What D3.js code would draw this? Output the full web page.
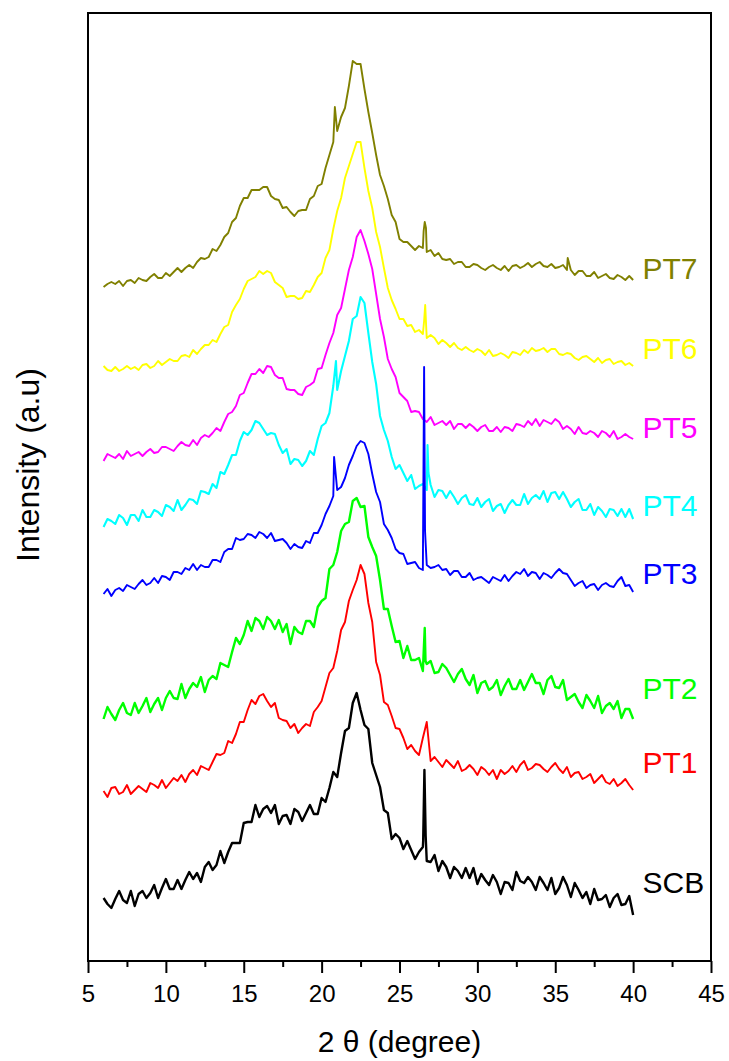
<!DOCTYPE html>
<html>
<head>
<meta charset="utf-8">
<script src="https://cdn.jsdelivr.net/npm/d3@7"></script>
<style>
  body { margin: 0; background: #fff; }
  text { font-family: "Liberation Sans", Arial, sans-serif; }
</style>
</head>
<body>
<svg id="chart" width="729" height="1061"></svg>
<script>
// XRD scans, 2θ from 6° to 40° in 0.25° steps; intensities are stacked (offset) counts in a.u.
const scanStart = 6;
const scanStep = 0.25;

const sampleNames = ["SCB", "PT1", "PT2", "PT3", "PT4", "PT5", "PT6", "PT7"];
const sampleColors = ["#000000", "#ff0000", "#00ff00", "#0000ff", "#00ffff", "#ff00ff", "#ffff00", "#808000"];
// noisier scans read as a heavier trace
const traceWidths = [2.4, 1.9, 2.4, 1.9, 2.1, 1.9, 1.9, 1.9];

const SCB = [
  63, 57, 53, 62, 70, 61, 58, 70,
  55, 67, 70, 63, 68, 76, 63, 73,
  82, 72, 72, 81, 72, 81, 89, 82,
  88, 79, 94, 99, 91, 96, 110, 98,
  109, 118, 118, 118, 138, 139, 139, 156,
  144, 152, 155, 148, 156, 137, 145, 146,
  137, 152, 149, 140, 148, 156, 147, 147,
  163, 159, 173, 189, 184, 208, 230, 233,
  258, 268, 251, 236, 232, 198, 186, 174,
  151, 148, 122, 127, 123, 112, 120, 111,
  102, 109, 114, 100, 99, 106, 90, 100,
  94, 83, 94, 90, 83, 93, 83, 93,
  77, 87, 81, 76, 86, 79, 67, 79,
  78, 71, 89, 80, 78, 84, 79, 71,
  84, 78, 71, 83, 67, 73, 84, 76,
  64, 78, 71, 63, 69, 57, 72, 61,
  62, 66, 54, 63, 67, 56, 57, 65,
  46
];
const PT1 = [
  170, 164, 173, 174, 167, 169, 176, 167,
  171, 175, 172, 169, 178, 176, 173, 181,
  173, 178, 183, 180, 186, 179, 187, 191,
  186, 195, 193, 191, 199, 207, 206, 208,
  220, 218, 227, 239, 239, 251, 261, 257,
  265, 267, 260, 254, 258, 243, 241, 240,
  233, 237, 228, 233, 237, 235, 249, 254,
  260, 274, 288, 293, 310, 331, 339, 360,
  371, 381, 396, 387, 358, 339, 299, 286,
  259, 256, 245, 233, 232, 223, 212, 216,
  210, 206, 223, 239, 200, 204, 199, 194,
  201, 197, 193, 200, 190, 192, 196, 192,
  186, 194, 191, 186, 191, 182, 191, 187,
  190, 195, 189, 196, 200, 191, 193, 197,
  196, 192, 189, 194, 198, 192, 188, 194,
  184, 188, 189, 182, 184, 187, 178, 182,
  186, 179, 177, 182, 175, 178, 182, 176,
  171
];
const PT2 = [
  242, 254, 247, 241, 251, 258, 248, 246,
  258, 248, 255, 263, 249, 257, 263, 251,
  263, 270, 263, 262, 277, 263, 272, 278,
  274, 284, 269, 281, 285, 282, 298, 296,
  294, 309, 323, 317, 326, 340, 330, 343,
  340, 332, 344, 340, 332, 341, 329, 337,
  317, 334, 329, 327, 340, 340, 334, 354,
  360, 363, 392, 396, 409, 430, 437, 439,
  460, 463, 454, 455, 424, 414, 405, 381,
  352, 352, 335, 319, 320, 303, 315, 301,
  301, 303, 290, 297, 300, 288, 289, 297,
  293, 286, 279, 287, 292, 282, 276, 286,
  268, 278, 280, 271, 274, 281, 266, 275,
  282, 272, 272, 281, 271, 279, 287, 278,
  278, 267, 281, 285, 274, 273, 281, 261,
  264, 267, 259, 253, 266, 260, 253, 265,
  248, 255, 258, 252, 260, 243, 252, 252,
  242
];
const PT3 = [
  367, 372, 365, 371, 373, 370, 376, 374,
  372, 377, 381, 376, 378, 383, 378, 385,
  384, 381, 389, 389, 387, 393, 391, 397,
  391, 396, 394, 394, 401, 401, 399, 409,
  412, 412, 423, 421, 422, 427, 426, 423,
  429, 427, 423, 428, 420, 421, 422, 418,
  412, 417, 414, 413, 420, 418, 428, 428,
  436, 447, 455, 465, 471, 474, 483, 496,
  505, 515, 520, 518, 507, 487, 469, 459,
  437, 431, 423, 412, 408, 407, 397, 398,
  399, 393, 391, 396, 393, 394, 396, 391,
  392, 386, 390, 390, 384, 384, 388, 381,
  383, 384, 381, 378, 384, 382, 380, 386,
  380, 385, 389, 387, 392, 385, 389, 388,
  382, 388, 386, 383, 388, 392, 388, 387,
  381, 375, 378, 380, 373, 376, 377, 371,
  376, 378, 375, 374, 380, 384, 375, 376,
  369
];
const PT4 = [
  434, 442, 440, 437, 446, 443, 436, 446,
  446, 440, 451, 444, 444, 451, 449, 445,
  456, 454, 450, 461, 451, 456, 462, 461,
  457, 470, 469, 467, 477, 473, 489, 487,
  496, 506, 506, 520, 529, 526, 531, 540,
  538, 532, 526, 528, 527, 516, 508, 512,
  497, 502, 501, 495, 500, 510, 506, 522,
  535, 538, 548, 575, 571, 590, 605, 620,
  642, 645, 664, 658, 628, 599, 577, 545,
  531, 520, 504, 492, 496, 488, 480, 486,
  472, 475, 477, 471, 476, 464, 471, 470,
  463, 470, 464, 457, 463, 466, 457, 456,
  463, 454, 459, 462, 450, 455, 457, 448,
  456, 461, 456, 456, 467, 457, 463, 466,
  462, 470, 459, 468, 469, 462, 469, 462,
  454, 459, 462, 451, 451, 457, 446, 454,
  450, 444, 452, 451, 445, 452, 444, 452,
  442
];
const PT5 = [
  500, 507, 505, 503, 507, 502, 510, 505,
  507, 509, 505, 509, 512, 508, 509, 514,
  514, 512, 510, 515, 519, 516, 515, 521,
  516, 523, 526, 524, 528, 533, 530, 539,
  547, 549, 555, 566, 568, 578, 587, 587,
  592, 588, 595, 594, 586, 583, 583, 572,
  571, 571, 567, 566, 574, 576, 579, 592,
  593, 606, 618, 628, 646, 653, 672, 691,
  704, 724, 731, 720, 707, 692, 667, 642,
  624, 602, 592, 584, 568, 564, 560, 549,
  550, 549, 542, 539, 544, 536, 538, 540,
  536, 540, 532, 537, 537, 533, 537, 534,
  530, 534, 536, 530, 530, 534, 529, 534,
  533, 530, 537, 536, 534, 540, 536, 542,
  535, 541, 539, 537, 542, 539, 532, 535,
  532, 527, 534, 528, 527, 530, 528, 524,
  530, 528, 524, 530, 522, 524, 527, 524,
  522
];
const PT6 = [
  595, 591, 590, 594, 590, 592, 595, 592,
  594, 591, 596, 597, 593, 595, 600, 596,
  599, 602, 600, 600, 605, 606, 604, 611,
  607, 612, 616, 616, 621, 619, 627, 634,
  636, 649, 656, 662, 672, 680, 682, 684,
  690, 687, 690, 688, 679, 676, 673, 664,
  665, 665, 662, 663, 670, 669, 676, 684,
  688, 703, 711, 732, 750, 763, 783, 795,
  807, 819, 819, 793, 770, 753, 729, 714,
  693, 673, 661, 652, 642, 642, 635, 636,
  629, 631, 627, 623, 626, 623, 617, 621,
  618, 614, 618, 613, 611, 614, 611, 609,
  612, 610, 606, 611, 605, 606, 608, 606,
  603, 609, 608, 606, 611, 608, 613, 610,
  611, 613, 609, 612, 612, 607, 606, 608,
  607, 603, 601, 604, 605, 602, 599, 603,
  598, 601, 602, 597, 599, 600, 596, 598,
  595
];
const PT7 = [
  674, 677, 679, 677, 680, 675, 680, 681,
  678, 683, 681, 680, 684, 687, 683, 683,
  688, 685, 689, 693, 689, 693, 696, 693,
  699, 703, 702, 704, 712, 710, 716, 724,
  728, 739, 743, 755, 763, 763, 771, 771,
  771, 774, 774, 765, 762, 761, 753, 754,
  749, 745, 750, 751, 751, 762, 765, 775,
  777, 793, 806, 819, 830, 844, 853, 875,
  900, 897, 897, 872, 849, 828, 806, 786,
  775, 762, 746, 739, 722, 719, 719, 715,
  711, 715, 713, 709, 711, 705, 708, 702,
  701, 702, 697, 699, 699, 694, 694, 697,
  696, 693, 691, 694, 696, 693, 691, 695,
  690, 695, 696, 693, 695, 698, 694, 697,
  699, 695, 694, 697, 693, 694, 696, 691,
  691, 686, 690, 690, 685, 685, 689, 683,
  685, 687, 683, 682, 686, 684, 681, 685,
  681
];

// Narrow crystalline reflections recorded between grid steps: [2θ, intensity]
const SCB_sharp = [[26.52, 120], [26.6, 191], [26.68, 125]];
const PT1_sharp = [];
const PT2_sharp = [[26.62, 333], [26.67, 300]];
const PT3_sharp = [[20.8, 504], [26.58, 594], [26.64, 430]];
const PT4_sharp = [[20.92, 600], [26.8, 516], [26.86, 488]];
const PT5_sharp = [];
const PT6_sharp = [[26.58, 640], [26.65, 656], [26.72, 632]];
const PT7_sharp = [[20.85, 854], [26.55, 730], [26.62, 739], [26.7, 733], [35.8, 703]];

const xTickValues = [5, 10, 15, 20, 25, 30, 35, 40, 45];
const xMinorTickValues = [7.5, 12.5, 17.5, 22.5, 27.5, 32.5, 37.5, 42.5];

// Where each sample name sits (intensity level next to the end of its trace)
const labelLevels = [79, 199, 273, 388, 456, 534, 613, 693];

const seriesValues = [SCB, PT1, PT2, PT3, PT4, PT5, PT6, PT7];
const seriesSharp = [SCB_sharp, PT1_sharp, PT2_sharp, PT3_sharp, PT4_sharp, PT5_sharp, PT6_sharp, PT7_sharp];

const svg = d3.select("#chart");
const plot = { left: 88, right: 711, top: 13, bottom: 961 };

const x = d3.scaleLinear().domain([5, 45]).range([plot.left, plot.right]);
const y = d3.scaleLinear().domain([0, 948]).range([plot.bottom, plot.top]);

const series = sampleNames.map((name, k) => {
  const pts = seriesValues[k].map((v, i) => [scanStart + i * scanStep, v]);
  const all = pts.concat(seriesSharp[k]).sort((a, b) => a[0] - b[0]);
  return { name, color: sampleColors[k], width: traceWidths[k], points: all, label: labelLevels[k] };
});

const line = d3.line().x(d => x(d[0])).y(d => y(d[1]));

// traces, top sample first so lower traces lie over them
svg.append("g")
  .selectAll("path")
  .data(series.slice().reverse())
  .join("path")
  .attr("d", d => line(d.points))
  .attr("fill", "none")
  .attr("stroke", d => d.color)
  .attr("stroke-width", d => d.width)
  .attr("stroke-linejoin", "round");

// sample names
svg.append("g")
  .selectAll("text")
  .data(series)
  .join("text")
  .attr("x", x(40.6))
  .attr("y", d => y(d.label))
  .attr("dy", "0.35em")
  .attr("fill", d => d.color)
  .attr("font-size", 30)
  .text(d => d.name);

// bottom axis: major and minor ticks pointing outward
const axisMajor = d3.axisBottom(x).tickValues(xTickValues).tickSize(12).tickPadding(12).tickFormat(d3.format("d"));
const axisMinor = d3.axisBottom(x).tickValues(xMinorTickValues).tickSize(6).tickFormat("");

const gMinor = svg.append("g").attr("transform", `translate(0,${plot.bottom})`).call(axisMinor);
const gMajor = svg.append("g").attr("transform", `translate(0,${plot.bottom})`).call(axisMajor);
[gMinor, gMajor].forEach(g => {
  g.select(".domain").remove();
  g.selectAll(".tick line").attr("stroke", "#000").attr("stroke-width", 2);
});
gMajor.selectAll(".tick text")
  .attr("font-size", 24)
  .attr("fill", "#000")
  .style("font-family", "'Liberation Sans', Arial, sans-serif");

// frame
svg.append("rect")
  .attr("x", plot.left)
  .attr("y", plot.top)
  .attr("width", plot.right - plot.left)
  .attr("height", plot.bottom - plot.top)
  .attr("fill", "none")
  .attr("stroke", "#000")
  .attr("stroke-width", 2);

// axis titles
svg.append("text")
  .attr("x", (plot.left + plot.right) / 2)
  .attr("y", 1052)
  .attr("text-anchor", "middle")
  .attr("font-size", 30)
  .attr("fill", "#000")
  .text("2 θ (degree)");

svg.append("text")
  .attr("transform", `translate(39,${(plot.top + plot.bottom) / 2 - 22}) rotate(-90)`)
  .attr("text-anchor", "middle")
  .attr("font-size", 32)
  .attr("fill", "#000")
  .text("Intensity (a.u)");
</script>
</body>
</html>
